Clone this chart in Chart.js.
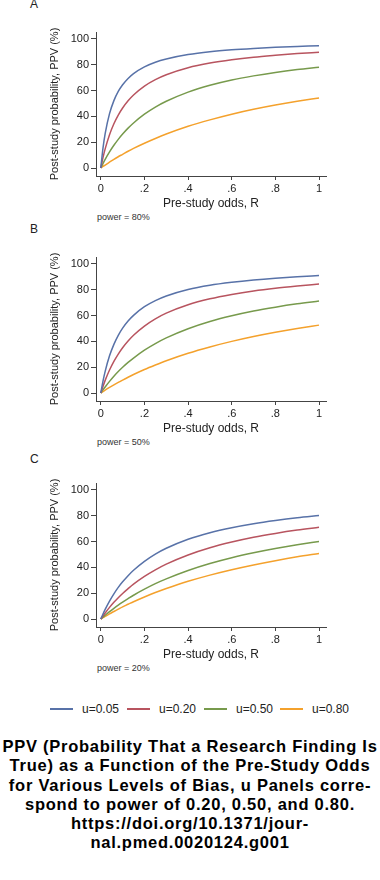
<!DOCTYPE html>
<html>
<head>
<meta charset="utf-8">
<script src="https://cdn.jsdelivr.net/npm/chart.js@4/dist/chart.umd.min.js"></script>
<style>
  html, body { margin: 0; padding: 0; background: #fff; }
  body { width: 380px; height: 880px; position: relative; overflow: hidden; font-family: "Liberation Sans", Arial, sans-serif; }
  .cv { position: absolute; left: 0; width: 380px; height: 211px; }
  .plab { position: absolute; left: 30px; font-size: 12px; color: #222; line-height: 14px; }
  .pow { position: absolute; left: 97px; font-size: 9px; color: #333; line-height: 10px; }
  #legend { position: absolute; top: 701px; left: 0; width: 380px; height: 16px; }
  .li { position: absolute; top: 0; height: 16px; font-size: 12px; line-height: 16px; color: #222; }
  .li span.sw { position: absolute; left: 0; top: 7px; width: 23px; height: 0; border-top: 2px solid #000; }
  .li span.tx { position: absolute; left: 32px; top: 0; white-space: nowrap; }
  #caption { position: absolute; top: 737px; left: 0; width: 380px; text-align: center; font-weight: bold; font-size: 16.5px; letter-spacing: 0.75px; line-height: 19.3px; color: #000; }
</style>
</head>
<body>
<div class="plab" style="top:-3px">A</div>
<div class="plab" style="top:222px">B</div>
<div class="plab" style="top:452px">C</div>
<canvas id="cA" class="cv" style="top:0px" width="380" height="211"></canvas>
<canvas id="cB" class="cv" style="top:225px" width="380" height="211"></canvas>
<canvas id="cC" class="cv" style="top:451px" width="380" height="211"></canvas>
<div class="pow" style="top:212px">power = 80%</div>
<div class="pow" style="top:437px">power = 50%</div>
<div class="pow" style="top:663px">power = 20%</div>
<div id="legend"></div>
<div id="caption">PPV (Probability That a Research Finding Is<br>True) as a Function of the Pre-Study Odds<br>for Various Levels of Bias, u Panels corre-<br>spond to power of 0.20, 0.50, and 0.80.<br>https://doi.org/10.1371/jour-<br>nal.pmed.0020124.g001</div>
<script>
// ---- data ----
const R = [0, 0.01, 0.02, 0.04, 0.06, 0.08, 0.1, 0.125, 0.15, 0.2, 0.25, 0.3, 0.4, 0.5, 0.6, 0.7, 0.8, 0.9, 1.0];
const seriesLabels = ["u=0.05", "u=0.20", "u=0.50", "u=0.80"];
const seriesColors = ["#5872a8", "#b8545f", "#779a4c", "#f4a12c"];
const xTickValues = [0, 0.2, 0.4, 0.6, 0.8, 1];
const xTickLabels = ["0", ".2", ".4", ".6", ".8", "1"];
const yTickValues = [0, 20, 40, 60, 80, 100];
const xTitle = "Pre-study odds, R";
const yTitle = "Post-study probability, PPV (%)";

// Panel A, power = 80%
const a_u05 = [0, 15.4, 26.7, 42.1, 52.2, 59.3, 64.5, 69.4, 73.2, 78.4, 82.0, 84.5, 87.9, 90.1, 91.6, 92.7, 93.6, 94.2, 94.8];
const a_u20 = [0, 8.0, 14.8, 25.8, 34.3, 41.0, 46.5, 52.1, 56.6, 63.5, 68.5, 72.3, 77.7, 81.3, 83.9, 85.9, 87.4, 88.7, 89.7];
const a_u50 = [0, 3.4, 6.7, 12.5, 17.6, 22.2, 26.3, 30.9, 34.9, 41.7, 47.2, 51.7, 58.8, 64.1, 68.2, 71.4, 74.1, 76.3, 78.1];
const a_u80 = [0, 1.2, 2.3, 4.5, 6.7, 8.7, 10.6, 13.0, 15.2, 19.2, 22.9, 26.3, 32.3, 37.3, 41.7, 45.5, 48.8, 51.7, 54.3];
// Panel B, power = 50%
const b_u05 = [0, 9.2, 16.8, 28.8, 37.7, 44.7, 50.3, 55.8, 60.2, 66.9, 71.6, 75.2, 80.2, 83.5, 85.8, 87.6, 89.0, 90.1, 91.0];
const b_u20 = [0, 5.1, 9.8, 17.8, 24.5, 30.2, 35.1, 40.3, 44.8, 51.9, 57.5, 61.9, 68.4, 73.0, 76.4, 79.1, 81.2, 82.9, 84.4];
const b_u50 = [0, 2.4, 4.7, 9.0, 13.0, 16.6, 19.9, 23.7, 27.1, 33.2, 38.3, 42.7, 49.8, 55.4, 59.8, 63.5, 66.5, 69.1, 71.3];
const b_u80 = [0, 1.1, 2.2, 4.3, 6.3, 8.2, 10.0, 12.2, 14.3, 18.2, 21.7, 25.0, 30.8, 35.7, 40.0, 43.8, 47.1, 50.0, 52.6];
// Panel C, power = 20%
const c_u05 = [0, 3.9, 7.5, 13.9, 19.5, 24.5, 28.8, 33.6, 37.8, 44.7, 50.3, 54.8, 61.8, 66.9, 70.8, 73.9, 76.4, 78.5, 80.2];
const c_u20 = [0, 2.4, 4.7, 9.0, 12.9, 16.5, 19.8, 23.5, 27.0, 33.0, 38.1, 42.5, 49.6, 55.2, 59.6, 63.3, 66.3, 68.9, 71.1];
const c_u50 = [0, 1.5, 2.9, 5.7, 8.3, 10.8, 13.1, 15.8, 18.4, 23.1, 27.4, 31.1, 37.6, 43.0, 47.5, 51.3, 54.6, 57.5, 60.1];
const c_u80 = [0, 1.0, 2.0, 4.0, 5.8, 7.6, 9.4, 11.4, 13.4, 17.1, 20.5, 23.6, 29.2, 34.0, 38.2, 41.9, 45.2, 48.2, 50.8];

const FONT = "'Liberation Sans', Arial, sans-serif";
const AXIS = "#444";

function makePanel(id, seriesList) {
  const datasets = seriesList.map((vals, i) => ({
    label: seriesLabels[i],
    data: R.map((r, j) => ({ x: r, y: vals[j] })),
    borderColor: seriesColors[i],
    backgroundColor: seriesColors[i],
    borderWidth: 1.5,
    pointRadius: 0,
    fill: false,
    cubicInterpolationMode: "monotone"
  }));
  return new Chart(document.getElementById(id), {
    type: "line",
    data: { datasets },
    options: {
      responsive: false,
      animation: false,
      events: [],
      layout: { padding: { left: 48, right: 54, top: 32, bottom: 0 } },
      plugins: { legend: { display: false }, tooltip: { enabled: false }, title: { display: false } },
      scales: {
        x: {
          type: "linear",
          min: -0.022, max: 1.032,
          afterBuildTicks: s => { s.ticks = xTickValues.map(v => ({ value: v })); },
          afterFit: s => { s.height = 35; },
          ticks: {
            autoSkip: false, maxRotation: 0, padding: 2.5,
            color: "#222", font: { family: FONT, size: 11 },
            callback: (v) => { const k = xTickValues.indexOf(v); return k >= 0 ? xTickLabels[k] : ""; }
          },
          grid: { display: true, drawOnChartArea: false, drawTicks: true, tickLength: 4, color: AXIS, lineWidth: 1 },
          border: { display: true, color: AXIS, width: 1 },
          title: { display: true, text: xTitle, color: "#222", padding: 0, font: { family: FONT, size: 12 } }
        },
        y: {
          type: "linear",
          min: -6.2, max: 105.4,
          afterBuildTicks: s => { s.ticks = yTickValues.map(v => ({ value: v })); },
          afterFit: s => { s.width = 48; },
          ticks: {
            autoSkip: false, padding: 2,
            color: "#222", font: { family: FONT, size: 11 },
            callback: v => String(v)
          },
          grid: { display: true, drawOnChartArea: false, drawTicks: true, tickLength: 5, color: AXIS, lineWidth: 1 },
          border: { display: true, color: AXIS, width: 1 },
          title: { display: true, text: yTitle, color: "#222", padding: 0, font: { family: FONT, size: 11 } }
        }
      }
    }
  });
}

makePanel("cA", [a_u05, a_u20, a_u50, a_u80]);
makePanel("cB", [b_u05, b_u20, b_u50, b_u80]);
makePanel("cC", [c_u05, c_u20, c_u50, c_u80]);

// legend
const legendLefts = [50, 127, 204, 280];
const lg = document.getElementById("legend");
seriesLabels.forEach((lab, i) => {
  const d = document.createElement("div");
  d.className = "li";
  d.style.left = legendLefts[i] + "px";
  const sw = document.createElement("span");
  sw.className = "sw";
  sw.style.borderTopColor = seriesColors[i];
  const tx = document.createElement("span");
  tx.className = "tx";
  tx.textContent = lab;
  d.appendChild(sw);
  d.appendChild(tx);
  lg.appendChild(d);
});
</script>
</body>
</html>
